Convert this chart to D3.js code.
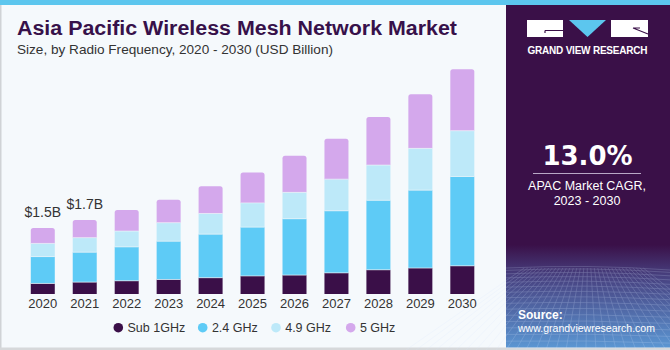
<!DOCTYPE html>
<html><head><meta charset="utf-8">
<script src="https://cdn.jsdelivr.net/npm/d3@7/dist/d3.min.js"></script>
<style>
html,body{margin:0;padding:0;background:#fff;}
svg{display:block;font-family:"Liberation Sans",Arial,sans-serif;}
</style></head>
<body>
<svg id="chart" width="670" height="350"></svg>
<script>
const years = ["2020","2021","2022","2023","2024","2025","2026","2027","2028","2029","2030"];
const seriesNames = ["Sub 1GHz","2.4 GHz","4.9 GHz","5 GHz"];
const sub1GHz = [0.24,0.27,0.30,0.33,0.37,0.41,0.43,0.48,0.55,0.59,0.64];
const ghz24   = [0.61,0.68,0.77,0.87,0.99,1.11,1.28,1.41,1.58,1.77,2.03];
const ghz49   = [0.30,0.33,0.36,0.42,0.47,0.55,0.60,0.72,0.80,0.95,1.04];
const ghz5    = [0.35,0.40,0.48,0.52,0.62,0.69,0.83,0.92,1.09,1.23,1.40];
const valueLabels = [{year:"2020", text:"$1.5B"},{year:"2021", text:"$1.7B"}];
const colors = ["#3a0f48","#5ecbf6","#bde9f9","#d4a8ec"];

const svg = d3.select("#chart");
const W = 670, H = 350;

// background
svg.append("rect").attr("x",0).attr("y",0).attr("width",W).attr("height",H).attr("fill","#f5f9fc");
svg.append("rect").attr("x",0).attr("y",0).attr("width",1.5).attr("height",H).attr("fill","#d0d3d6");
svg.append("rect").attr("x",0).attr("y",347.5).attr("width",W).attr("height",2.5).attr("fill","#d6d8da");
svg.append("rect").attr("x",0).attr("y",0).attr("width",W).attr("height",5).attr("fill","#5cc6ee");

// right panel
const defs = svg.append("defs");
const grad = defs.append("linearGradient").attr("id","pg").attr("x1",0).attr("y1",0).attr("x2",0).attr("y2",1);
grad.append("stop").attr("offset","0").attr("stop-color","#3a1048");
grad.append("stop").attr("offset","0.70").attr("stop-color","#3a1048");
grad.append("stop").attr("offset","0.79").attr("stop-color","#47407f");
grad.append("stop").attr("offset","1").attr("stop-color","#5b96d2");
const px0 = 506, py0 = 5, pw = 164, ph = 342.5;
svg.append("rect").attr("x",px0).attr("y",py0).attr("width",pw).attr("height",ph).attr("fill","url(#pg)");

// grid texture in panel bottom
const gridG = svg.append("g").attr("opacity",0.3).attr("stroke","#d6e6ff").attr("stroke-width",0.6).attr("fill","none");
const horizon = 268;
for (let i = 0; i < 16; i++) {
  const t = i/15;
  const yy = horizon + 80*Math.pow(t,1.3);
  gridG.append("path").attr("d",`M${px0},${yy} Q${px0+pw/2},${yy-4+3*t} ${px0+pw},${yy+2}`);
}
for (let i = -10; i <= 24; i++) {
  const xt = px0 + i*10;
  gridG.append("line").attr("x1",px0+pw/2 + (xt-(px0+pw/2))*0.35).attr("y1",horizon).attr("x2",xt).attr("y2",H);
}

// logo
const logo = svg.append("g");
logo.append("rect").attr("x",527).attr("y",20).attr("width",36).attr("height",17).attr("fill","#ffffff");
logo.append("path").attr("d","M545,30.5 H563 M545,30.5 V33").attr("stroke","#3a1048").attr("stroke-width",1.2).attr("fill","none");
logo.append("path").attr("d","M569,20 H606 L587.5,37 Z").attr("fill","#5cc6ee");
logo.append("rect").attr("x",611).attr("y",20).attr("width",37).attr("height",17).attr("fill","#ffffff");
logo.append("path").attr("d","M633,28 L648,34 M633,28 H640").attr("stroke","#3a1048").attr("stroke-width",1.1).attr("fill","none");
svg.append("text").attr("x",587.5).attr("y",54).attr("text-anchor","middle")
  .attr("font-size",10).attr("font-weight","bold").attr("fill","#ffffff")
  .attr("textLength",120).attr("lengthAdjust","spacing")
  .text("GRAND VIEW RESEARCH");

// CAGR
svg.append("text").attr("x",587.5).attr("y",165).attr("text-anchor","middle")
  .attr("font-family","'DejaVu Sans',sans-serif").attr("font-size",26).attr("font-weight","bold").attr("fill","#ffffff")
  .text("13.0%");
svg.append("line").attr("x1",533).attr("x2",641).attr("y1",173.5).attr("y2",173.5).attr("stroke","#b9a8c6").attr("stroke-width",1);
svg.append("text").attr("x",587).attr("y",189.5).attr("text-anchor","middle").attr("font-size",12.5).attr("fill","#ffffff").text("APAC Market CAGR,");
svg.append("text").attr("x",587).attr("y",204.5).attr("text-anchor","middle").attr("font-size",12.5).attr("fill","#ffffff").text("2023 - 2030");

// source
svg.append("text").attr("x",518).attr("y",318.5).attr("font-size",12).attr("font-weight","bold").attr("fill","#ffffff").text("Source:");
svg.append("text").attr("x",518).attr("y",331.5).attr("font-size",11.5).attr("fill","#ffffff")
  .attr("textLength",137).attr("lengthAdjust","spacingAndGlyphs")
  .text("www.grandviewresearch.com");

// titles
svg.append("text").attr("x",17).attr("y",35).attr("font-size",20).attr("font-weight","bold").attr("fill","#37114a")
  .attr("textLength",440).attr("lengthAdjust","spacingAndGlyphs")
  .text("Asia Pacific Wireless Mesh Network Market");
svg.append("text").attr("x",17).attr("y",54).attr("font-size",13).attr("fill","#333333")
  .attr("textLength",316).attr("lengthAdjust","spacingAndGlyphs")
  .text("Size, by Radio Frequency, 2020 - 2030 (USD Billion)");

// scales
const x = d3.scaleBand().domain(years).range([18.2, 486.9]).paddingInner(0.428).paddingOuter(0.3);
const y = d3.scaleLinear().domain([0,5.5]).range([294, 52]);

const table = years.map((yr,i)=>({year:yr, "Sub 1GHz":sub1GHz[i], "2.4 GHz":ghz24[i], "4.9 GHz":ghz49[i], "5 GHz":ghz5[i]}));
const stack = d3.stack().keys(seriesNames)(table);

const bars = svg.append("g");
stack.forEach((layer, li) => {
  const g = bars.append("g").attr("fill", colors[li]);
  layer.forEach(d => {
    const x0 = x(d.data.year), w = x.bandwidth();
    const yTop = y(d[1]), yBot = y(d[0]);
    if (li === seriesNames.length - 1) {
      const r = 2.5;
      g.append("path").attr("d",
        `M${x0},${yBot} V${yTop+r} Q${x0},${yTop} ${x0+r},${yTop} H${x0+w-r} Q${x0+w},${yTop} ${x0+w},${yTop+r} V${yBot} Z`);
    } else {
      g.append("rect").attr("x",x0).attr("y",yTop).attr("width",w).attr("height",yBot-yTop);
    }
  });
});
// thin separators between segments
const sepG = svg.append("g").attr("stroke","#f0f6fa").attr("stroke-width",0.8).attr("opacity",0.8);
stack.slice(0,-1).forEach(layer => {
  layer.forEach(d => {
    const x0 = x(d.data.year);
    sepG.append("line").attr("x1",x0).attr("x2",x0+x.bandwidth()).attr("y1",y(d[1])).attr("y2",y(d[1]));
  });
});

// x axis labels
const xAxis = d3.axisBottom(x).tickSize(0).tickPadding(0);
const ax = svg.append("g").attr("transform","translate(0,294)").call(xAxis);
ax.select(".domain").remove();
ax.selectAll("text").attr("font-size",13).attr("fill","#333333").attr("font-family","'Liberation Sans',Arial,sans-serif").attr("dy",0).attr("y",13.5);

// value labels
const totals = years.map((yr,i)=>sub1GHz[i]+ghz24[i]+ghz49[i]+ghz5[i]);
valueLabels.forEach(v => {
  const i = years.indexOf(v.year);
  svg.append("text").attr("x", x(v.year)+x.bandwidth()/2).attr("y", y(totals[i]) - 11)
    .attr("text-anchor","middle").attr("font-size",14).attr("fill","#333333").text(v.text);
});

// legend
const legendX = [118.3, 202.7, 276, 350.7];
const lg = svg.append("g");
seriesNames.forEach((n,i) => {
  lg.append("circle").attr("cx",legendX[i]).attr("cy",327.7).attr("r",4.8).attr("fill",colors[i]);
  lg.append("text").attr("x",legendX[i]+9.2).attr("y",332).attr("font-size",12.5).attr("fill","#333333").text(n);
});
</script>
</body></html>
